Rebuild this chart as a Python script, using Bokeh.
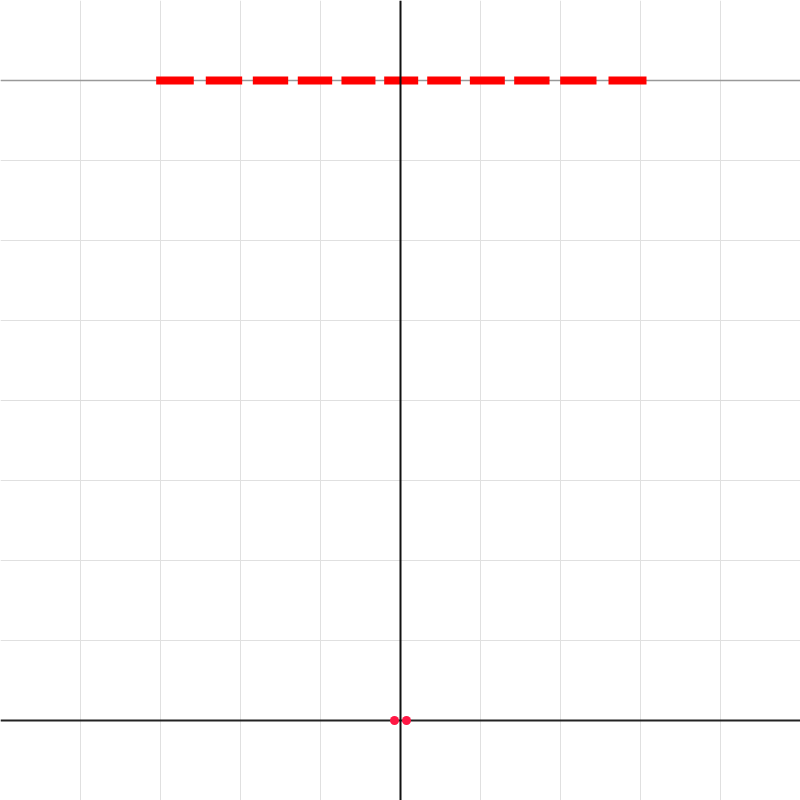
from bokeh.plotting import figure
from bokeh.models import Span, FixedTicker, ColumnDataSource, Range1d
from bokeh.embed import file_html
from bokeh.resources import INLINE

# data
grid_x = list(range(-5, 6))
grid_y = list(range(-1, 10))
level_y = 8
seg_x0 = [-3.054, -2.434, -1.846, -1.284, -0.738, -0.204, 0.334, 0.867, 1.421, 1.996, 2.600]
seg_x1 = [-2.584, -1.979, -1.404, -0.854, -0.313, 0.221, 0.754, 1.304, 1.863, 2.450, 3.075]
dot_x = [-0.075, 0.075]
dot_y = [0, 0]

p = figure(width=800, height=800, output_backend="svg", toolbar_location=None,
           x_range=Range1d(-5, 5), y_range=Range1d(-1, 9), min_border=0)
p.outline_line_color = None
p.background_fill_color = "white"
p.border_fill_color = "white"
p.xaxis.ticker = FixedTicker(ticks=grid_x)
p.yaxis.ticker = FixedTicker(ticks=grid_y)
p.xgrid.ticker = FixedTicker(ticks=grid_x)
p.ygrid.ticker = FixedTicker(ticks=grid_y)
p.xaxis.visible = False
p.yaxis.visible = False
p.xgrid.grid_line_color = "#e0e0e0"
p.ygrid.grid_line_color = "#e0e0e0"
p.xgrid.grid_line_width = 1
p.ygrid.grid_line_width = 1

p.add_layout(Span(location=level_y, dimension="width", line_color="#999999",
                  line_width=1.5, level="underlay"))
p.add_layout(Span(location=0, dimension="width", line_color="#222222",
                  line_width=2, level="underlay"))

src = ColumnDataSource(dict(x0=seg_x0, x1=seg_x1, y=[level_y] * len(seg_x0)))
p.segment(x0="x0", y0="y", x1="x1", y1="y", source=src, line_color="#ff0000",
          line_width=8, line_cap="butt")

p.scatter(dot_x, dot_y, size=9, fill_color="#ff1744", line_color=None)

p.add_layout(Span(location=0, dimension="height", line_color="#111111", line_width=2))

open("out.html", "w").write(file_html(p, INLINE))
